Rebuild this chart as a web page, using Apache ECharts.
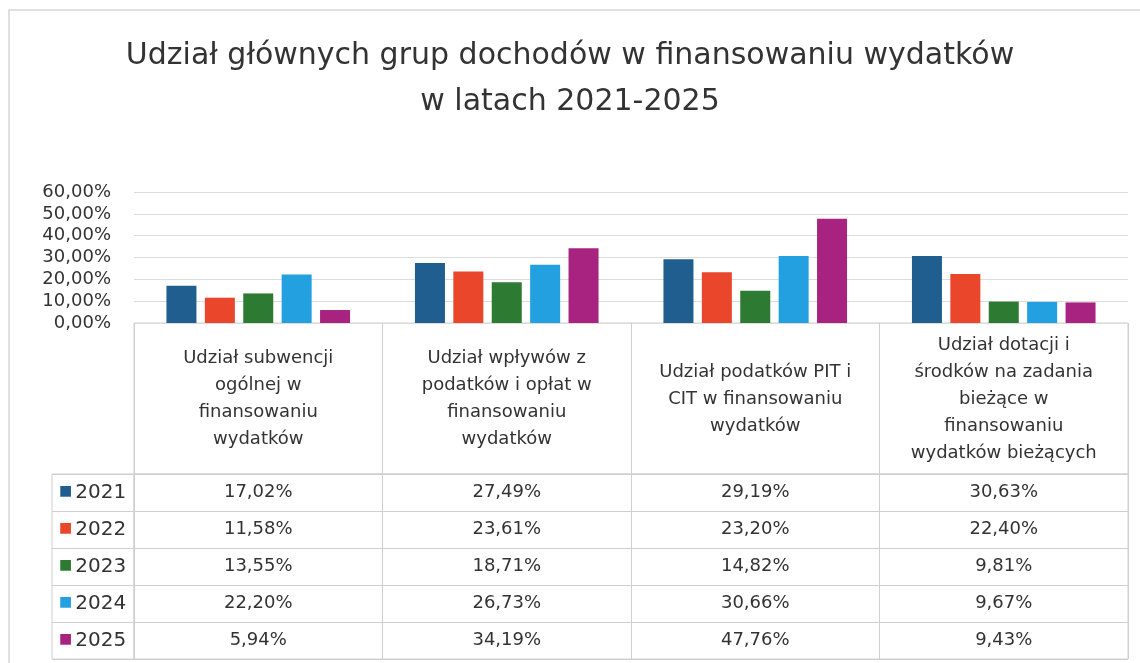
<!DOCTYPE html>
<html>
<head>
<meta charset="utf-8">
<script src="https://cdn.jsdelivr.net/npm/echarts@6/dist/echarts.min.js"></script>
<style>
html,body{margin:0;padding:0;background:#fff;}
#c{width:1140px;height:663px;}
</style>
</head>
<body>
<div id="c"></div>
<script>
const titleText = 'Udział głównych grup dochodów w finansowaniu wydatków\nw latach 2021-2025';
const categories = [
  'Udział subwencji\nogólnej w\nfinansowaniu\nwydatków',
  'Udział wpływów z\npodatków i opłat w\nfinansowaniu\nwydatków',
  'Udział podatków PIT i\nCIT w finansowaniu\nwydatków',
  'Udział dotacji i\nśrodków na zadania\nbieżące w\nfinansowaniu\nwydatków bieżących'
];
const years = ['2021', '2022', '2023', '2024', '2025'];
const v2021 = [17.02, 27.49, 29.19, 30.63];
const v2022 = [11.58, 23.61, 23.20, 22.40];
const v2023 = [13.55, 18.71, 14.82, 9.81];
const v2024 = [22.20, 26.73, 30.66, 9.67];
const v2025 = [5.94, 34.19, 47.76, 9.43];
const yTicks = [0, 10, 20, 30, 40, 50, 60];

const values = [v2021, v2022, v2023, v2024, v2025];
const colors = ['#1f5e8e', '#e9462b', '#2d7a33', '#22a0e0', '#a8237f'];
const FONT = 'DejaVu Sans';
const TXT = '#333333';
const LINE = '#cfcfcf';
const fmt = v => v.toFixed(2).replace('.', ',') + '%';

const L = 134, R = 12;
const rich = {};
colors.forEach((c, i) => { rich['s' + i] = { color: c, fontSize: 14, fontFamily: FONT, padding: [0, 3, 2, 0] }; });
rich.y = { color: TXT, fontSize: 20, fontFamily: FONT };

const series = [];
values.forEach((arr, i) => {
  series.push({
    name: years[i], type: 'bar', xAxisIndex: 0, yAxisIndex: 0,
    data: arr, barWidth: 30, barGap: '28%',
    itemStyle: { color: colors[i] }, silent: true
  });
});
values.forEach((arr, i) => {
  series.push({
    name: 't' + years[i], type: 'scatter', xAxisIndex: 2, yAxisIndex: 2,
    symbolSize: 0.01, itemStyle: { color: '#ffffff', opacity: 1 }, silent: true,
    data: arr.map((v, ci) => [ci, i, v]),
    label: { show: true, position: 'top', distance: 0, verticalAlign: 'middle', align: 'center',
      formatter: p => fmt(p.value[2]), opacity: 1,
      fontFamily: FONT, fontSize: 18, color: TXT, textBorderWidth: 0 }
  });
});

const chart = echarts.init(document.getElementById('c'));
chart.setOption({
  animation: false,
  backgroundColor: '#ffffff',
  title: {
    text: titleText, left: 'center', top: 28,
    textStyle: { fontFamily: FONT, fontSize: 30, fontWeight: 'normal', color: TXT, lineHeight: 46 }
  },
  graphic: [{
    type: 'rect', shape: { x: 9, y: 10, width: 1300, height: 800 }, silent: true,
    style: { fill: 'none', stroke: '#d6d6d6', lineWidth: 1.5 }
  }],
  grid: [
    { left: L, right: R, top: 192, height: 131 },
    { left: L, right: R, top: 323, height: 151, show: true, borderColor: LINE, borderWidth: 1 },
    { left: L, right: R, top: 474, height: 185, show: true, borderColor: LINE, borderWidth: 1 },
    { left: 52, width: 82, top: 474, height: 185, show: true, borderColor: LINE, borderWidth: 1 }
  ],
  xAxis: [
    { gridIndex: 0, type: 'category', data: categories,
      axisLine: { show: false }, axisTick: { show: false },
      axisLabel: { interval: 0, verticalAlign: 'middle', margin: 76, lineHeight: 27,
        fontFamily: FONT, fontSize: 18, color: TXT, align: 'center' } },
    { gridIndex: 1, type: 'category', data: categories,
      axisLine: { show: false }, axisTick: { show: false }, axisLabel: { show: false },
      splitLine: { show: true, lineStyle: { color: LINE } } },
    { gridIndex: 2, type: 'category', data: categories,
      axisLine: { show: false }, axisTick: { show: false }, axisLabel: { show: false },
      splitLine: { show: true, lineStyle: { color: LINE } } },
    { gridIndex: 3, type: 'category', data: ['x'], show: false }
  ],
  yAxis: [
    { gridIndex: 0, type: 'value', min: yTicks[0], max: yTicks[yTicks.length - 1], interval: 10,
      axisLine: { show: false }, axisTick: { show: false },
      axisLabel: { formatter: v => fmt(v), fontFamily: FONT, fontSize: 18, color: TXT, margin: 23 },
      splitLine: { show: true, lineStyle: { color: '#dcdcdc' } } },
    { gridIndex: 1, type: 'value', show: false, splitLine: { show: false } },
    { gridIndex: 2, type: 'category', data: years, inverse: true,
      axisLine: { show: false }, axisTick: { show: false }, axisLabel: { show: false },
      splitLine: { show: true, lineStyle: { color: LINE } } },
    { gridIndex: 3, type: 'category', data: years, inverse: true,
      axisLine: { show: false }, axisTick: { show: false },
      axisLabel: { inside: true, margin: 7, align: 'left',
        formatter: (v, i) => '{s' + i + '|■}{y|' + v + '}', rich: rich },
      splitLine: { show: true, lineStyle: { color: LINE } } }
  ],
  series: series
});
</script>
</body>
</html>
